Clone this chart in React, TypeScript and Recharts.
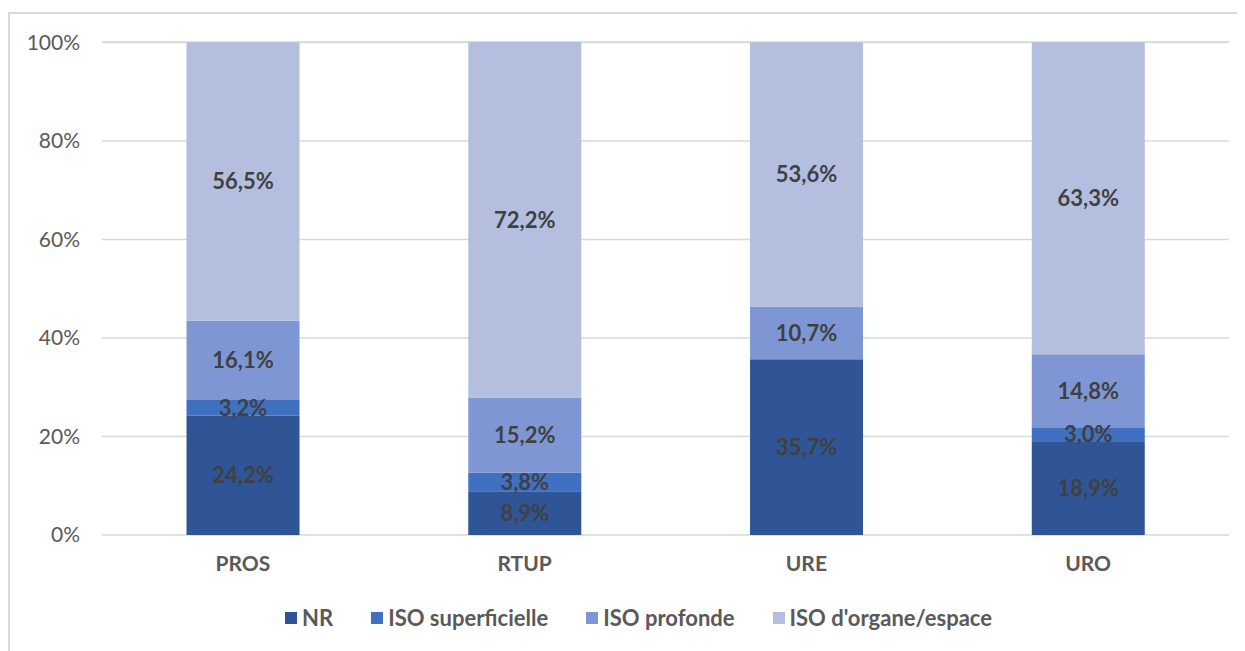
import React from "react";
import { BarChart, Bar, XAxis, YAxis, CartesianGrid, Legend, LabelList } from "recharts";

const categories = ["PROS", "RTUP", "URE", "URO"];
const nr = [24.2, 8.9, 35.7, 18.9];
const isoSup = [3.2, 3.8, 0, 3.0];
const isoProf = [16.1, 15.2, 10.7, 14.8];
const isoOrg = [56.5, 72.2, 53.6, 63.3];
const yTicks = [0, 20, 40, 60, 80, 100];

const series = [
  { key: "nr", name: "NR", color: "#2F5597" },
  { key: "sup", name: "ISO superficielle", color: "#4070C0" },
  { key: "prof", name: "ISO profonde", color: "#7F96D4" },
  { key: "org", name: "ISO d'organe/espace", color: "#B4BFE0" },
];

const data = categories.map((c, i) => ({
  cat: c,
  nr: nr[i],
  sup: isoSup[i],
  prof: isoProf[i],
  org: isoOrg[i],
}));

const FONT = "Lato, 'Noto Sans', sans-serif";

const fmt = (v: any) => (v && Number(v) > 0 ? Number(v).toFixed(1).replace(".", ",") + "%" : "");

const LegendContent = () => (
  <div
    style={{
      display: "flex",
      justifyContent: "center",
      alignItems: "center",
      fontFamily: FONT,
      fontWeight: 700,
      fontSize: 22,
      color: "#595959",
      paddingLeft: 24,
    }}
  >
    {series.map((s, i) => (
      <div key={s.key} style={{ display: "flex", alignItems: "center", marginLeft: i === 0 ? 0 : 38 }}>
        <span style={{ display: "inline-block", width: 12, height: 12, background: s.color, marginRight: 5 }} />
        <span>{s.name}</span>
      </div>
    ))}
  </div>
);

export default function App() {
  return (
    <div style={{ position: "relative", width: 1237, height: 643, overflow: "hidden", background: "#fff" }}>
      <div
        style={{
          position: "absolute",
          left: 0,
          top: 4,
          width: 1400,
          height: 800,
          borderTop: "2px solid #D9D9D9",
          borderLeft: "2px solid #D9D9D9",
          boxSizing: "border-box",
        }}
      />
      <BarChart
        width={1237}
        height={643}
        data={data}
        margin={{ top: 34, right: 16, left: 0, bottom: 0 }}
        barCategoryGap="30%"
        style={{ fontFamily: FONT }}
      >
        <CartesianGrid vertical={false} stroke="#D9D9D9" strokeWidth={1.5} />
        <XAxis
          dataKey="cat"
          axisLine={false}
          tickLine={false}
          tickMargin={15}
          height={89}
          tick={{ fill: "#595959", fontSize: 21, fontWeight: 700, fontFamily: FONT }}
        />
        <YAxis
          width={94}
          domain={[0, 100]}
          ticks={yTicks}
          axisLine={false}
          tickLine={false}
          tickMargin={16}
          tickFormatter={(v: number) => v + "%"}
          tick={{ fill: "#595959", fontSize: 21, fontFamily: FONT }}
        />
        <Legend
          verticalAlign="bottom"
          content={<LegendContent />}
          wrapperStyle={{ bottom: 20, left: 0, width: 1237 }}
        />
        {series.map((s) => (
          <Bar key={s.key} dataKey={s.key} name={s.name} stackId="a" fill={s.color} isAnimationActive={false}>
            <LabelList
              dataKey={s.key}
              position="center"
              formatter={fmt}
              fill="#404040"
              style={{ fontFamily: FONT, fontWeight: 700, fontSize: 22 }}
            />
          </Bar>
        ))}
      </BarChart>
    </div>
  );
}
